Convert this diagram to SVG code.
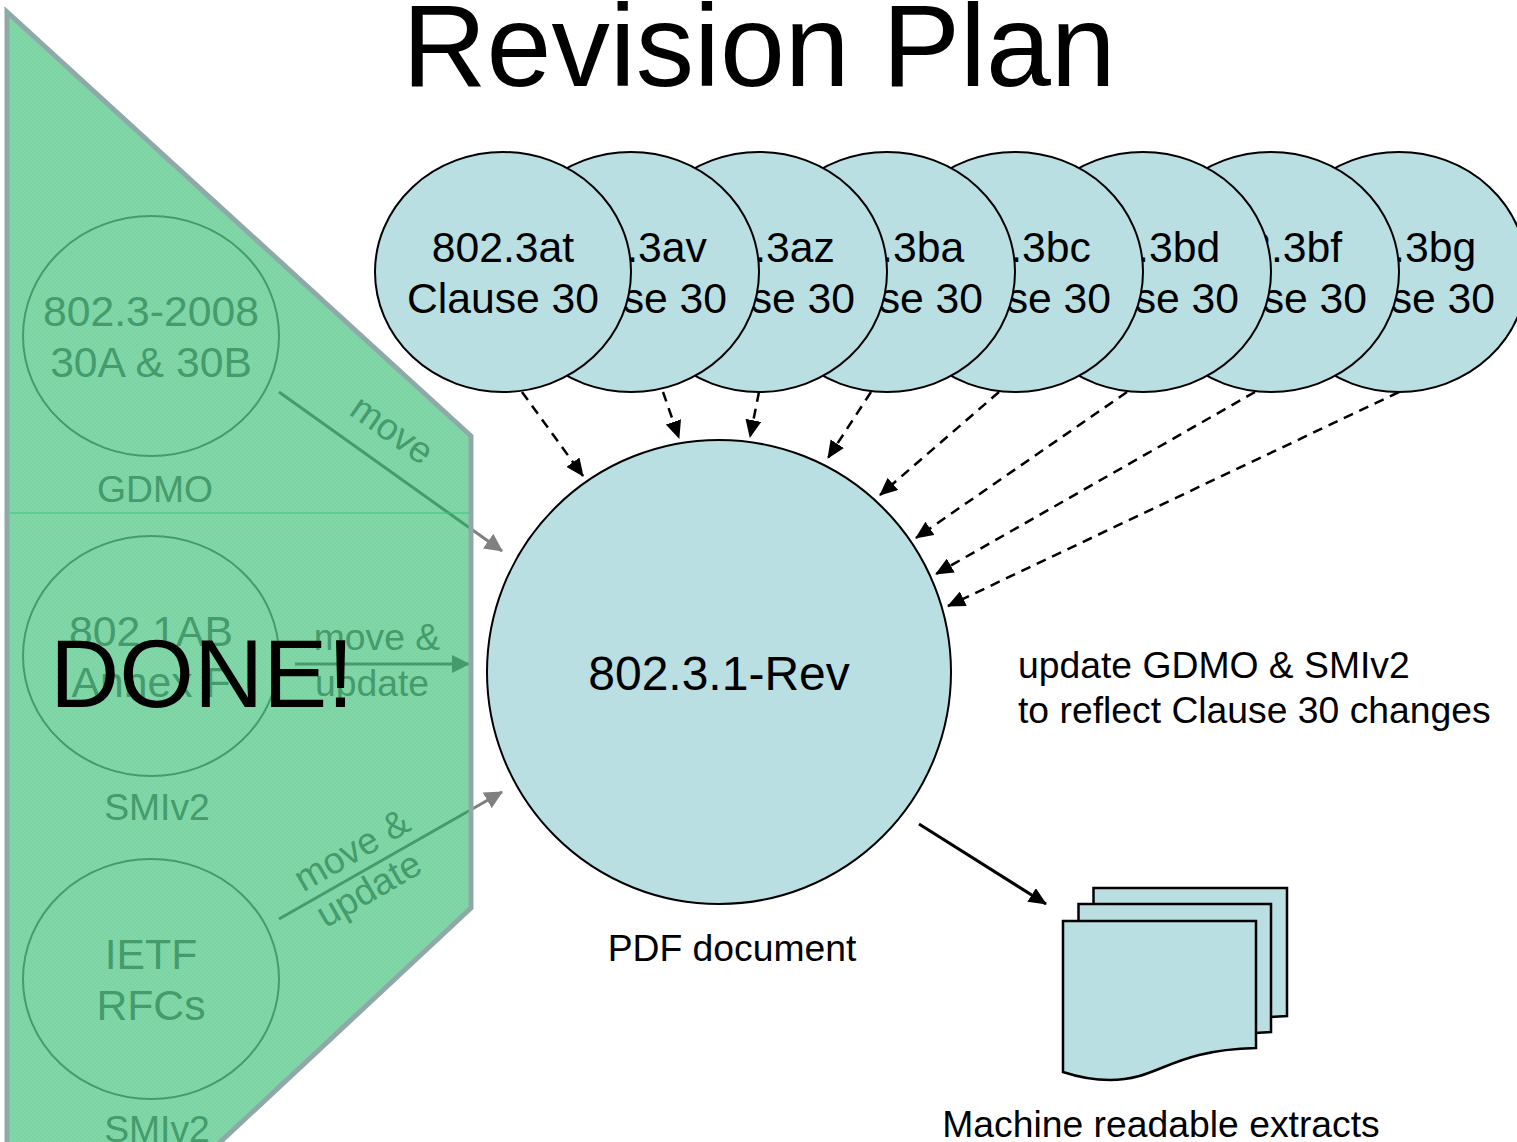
<svg xmlns="http://www.w3.org/2000/svg" width="1517" height="1142" viewBox="0 0 1517 1142">
<style>
text{font-family:"Liberation Sans",Arial,sans-serif;fill:#000;text-anchor:middle}
.l{font-size:42.700px}
.g{fill:#808080;font-size:42.700px}
.s{font-size:37.300px}
.gs{fill:#808080;font-size:37.300px}
.c{fill:#b9dfe2;stroke:#000;stroke-width:2}
.gc{fill:none;stroke:#808080;stroke-width:2}
.d{fill:none;stroke:#000;stroke-width:2.500;stroke-dasharray:10 7;marker-end:url(#a)}
.sl{fill:none;stroke:#000;stroke-width:3;marker-end:url(#a)}
.gl{fill:none;stroke:#808080;stroke-width:3;marker-end:url(#b)}
.p{fill:#b9dfe2;stroke:#000;stroke-width:2.500}
</style>
<defs>
<marker id="a" markerUnits="userSpaceOnUse" markerWidth="19" markerHeight="16" refX="17" refY="8" orient="auto"><path d="M0 0L18 8L0 16Z" fill="#000"/></marker>
<marker id="b" markerUnits="userSpaceOnUse" markerWidth="19" markerHeight="18" refX="17" refY="9" orient="auto"><path d="M0 0L18 9L0 18Z" fill="#808080"/></marker>
<pattern id="ck" width="4" height="4" patternUnits="userSpaceOnUse"><rect width="4" height="4" fill="#14b75e"/><rect width="2" height="2" fill="#10ad58"/><rect x="2" y="2" width="2" height="2" fill="#10ad58"/></pattern>
</defs>
<text id="title" x="759" y="86" style="font-size:116.700px">Revision Plan</text>
<g id="legacy-802-3-2008"><ellipse class="gc" cx="151" cy="336" rx="128" ry="120"/><text class="g" x="151" y="326">802.3-2008</text><text class="g" x="151" y="377">30A &amp; 30B</text><text class="gs" x="155" y="502">GDMO</text></g>
<g id="legacy-802-1ab"><ellipse class="gc" cx="151" cy="656" rx="128" ry="120"/><text class="g" x="151" y="646">802.1AB</text><text class="g" x="151" y="697">Annex F</text><text class="gs" x="157" y="820">SMIv2</text></g>
<g id="legacy-ietf"><ellipse class="gc" cx="151" cy="979" rx="128" ry="120"/><text class="g" x="151" y="969">IETF</text><text class="g" x="151" y="1020">RFCs</text><text class="gs" x="157" y="1142">SMIv2</text></g>
<g id="legacy-connectors">
<path class="gl" d="M279 392L502 551"/><path class="gl" d="M295 664L469 664"/><path class="gl" d="M279 919L502 792"/>
<text class="gs" transform="translate(385 440) rotate(35)">move</text>
<text class="gs" x="377" y="650">move &amp;</text><text class="gs" x="372" y="696">update</text>
<text class="gs" transform="translate(358 861) rotate(-30)">move &amp;</text>
<text class="gs" transform="translate(375 900) rotate(-30)">update</text>
</g>
<g id="done-panel">
<path d="M7 12L471 436V908L216 1146H7Z" fill="url(#ck)" opacity=".54"/>
<path d="M7 1146V12L471 436V908L216 1146" fill="none" stroke="#8fa9a9" stroke-width="5"/>
<path d="M10 513H469" stroke="#3cc47c" stroke-width="1" fill="none"/>
</g>
<g id="c-3bg"><ellipse class="c" cx="1399" cy="272" rx="128" ry="120"/><text class="l" x="1399" y="262">802.3bg</text><text class="l" x="1399" y="313">Clause 30</text></g>
<g id="c-3bf"><ellipse class="c" cx="1271" cy="272" rx="128" ry="120"/><text class="l" x="1271" y="262">802.3bf</text><text class="l" x="1271" y="313">Clause 30</text></g>
<g id="c-3bd"><ellipse class="c" cx="1143" cy="272" rx="128" ry="120"/><text class="l" x="1143" y="262">802.3bd</text><text class="l" x="1143" y="313">Clause 30</text></g>
<g id="c-3bc"><ellipse class="c" cx="1015" cy="272" rx="128" ry="120"/><text class="l" x="1015" y="262">802.3bc</text><text class="l" x="1015" y="313">Clause 30</text></g>
<g id="c-3ba"><ellipse class="c" cx="887" cy="272" rx="128" ry="120"/><text class="l" x="887" y="262">802.3ba</text><text class="l" x="887" y="313">Clause 30</text></g>
<g id="c-3az"><ellipse class="c" cx="759" cy="272" rx="128" ry="120"/><text class="l" x="759" y="262">802.3az</text><text class="l" x="759" y="313">Clause 30</text></g>
<g id="c-3av"><ellipse class="c" cx="631" cy="272" rx="128" ry="120"/><text class="l" x="631" y="262">802.3av</text><text class="l" x="631" y="313">Clause 30</text></g>
<g id="c-3at"><ellipse class="c" cx="503" cy="272" rx="128" ry="120"/><text class="l" x="503" y="262">802.3at</text><text class="l" x="503" y="313">Clause 30</text></g>
<g id="rev"><circle class="c" cx="719" cy="672" r="232"/><text x="719" y="690" style="font-size:48px">802.3.1-Rev</text></g>
<g id="connectors">
<path class="d" d="M522 392L583 476"/><path class="d" d="M663 392L679 438"/><path class="d" d="M759 392L750 437"/><path class="d" d="M871 392L828 458"/><path class="d" d="M999 392L880 495"/><path class="d" d="M1127 392L916 538"/><path class="d" d="M1255 392L936 574"/><path class="d" d="M1399 392L948 606"/>
<path class="sl" d="M919 824L1046 904"/>
</g>
<g id="notes"><text class="s" x="1018" y="678" style="text-anchor:start">update GDMO &amp; SMIv2</text><text class="s" x="1018" y="723" style="text-anchor:start">to reflect Clause 30 changes</text><text class="s" x="732" y="961">PDF document</text></g>
<g id="extracts">
<path class="p" d="M1093.500 888H1287V1016L1270 1017H1093.500Z"/>
<path class="p" d="M1078.500 904H1271V1032L1255 1033H1078.500Z"/>
<path class="p" d="M1063 921H1256V1048C1170 1050 1160 1080 1110 1080C1090 1080 1075 1076 1063 1072Z"/>
<text class="s" x="1161" y="1137">Machine readable extracts</text>
</g>
<text id="done" x="202" y="707" style="font-size:96px">DONE!</text>
</svg>
